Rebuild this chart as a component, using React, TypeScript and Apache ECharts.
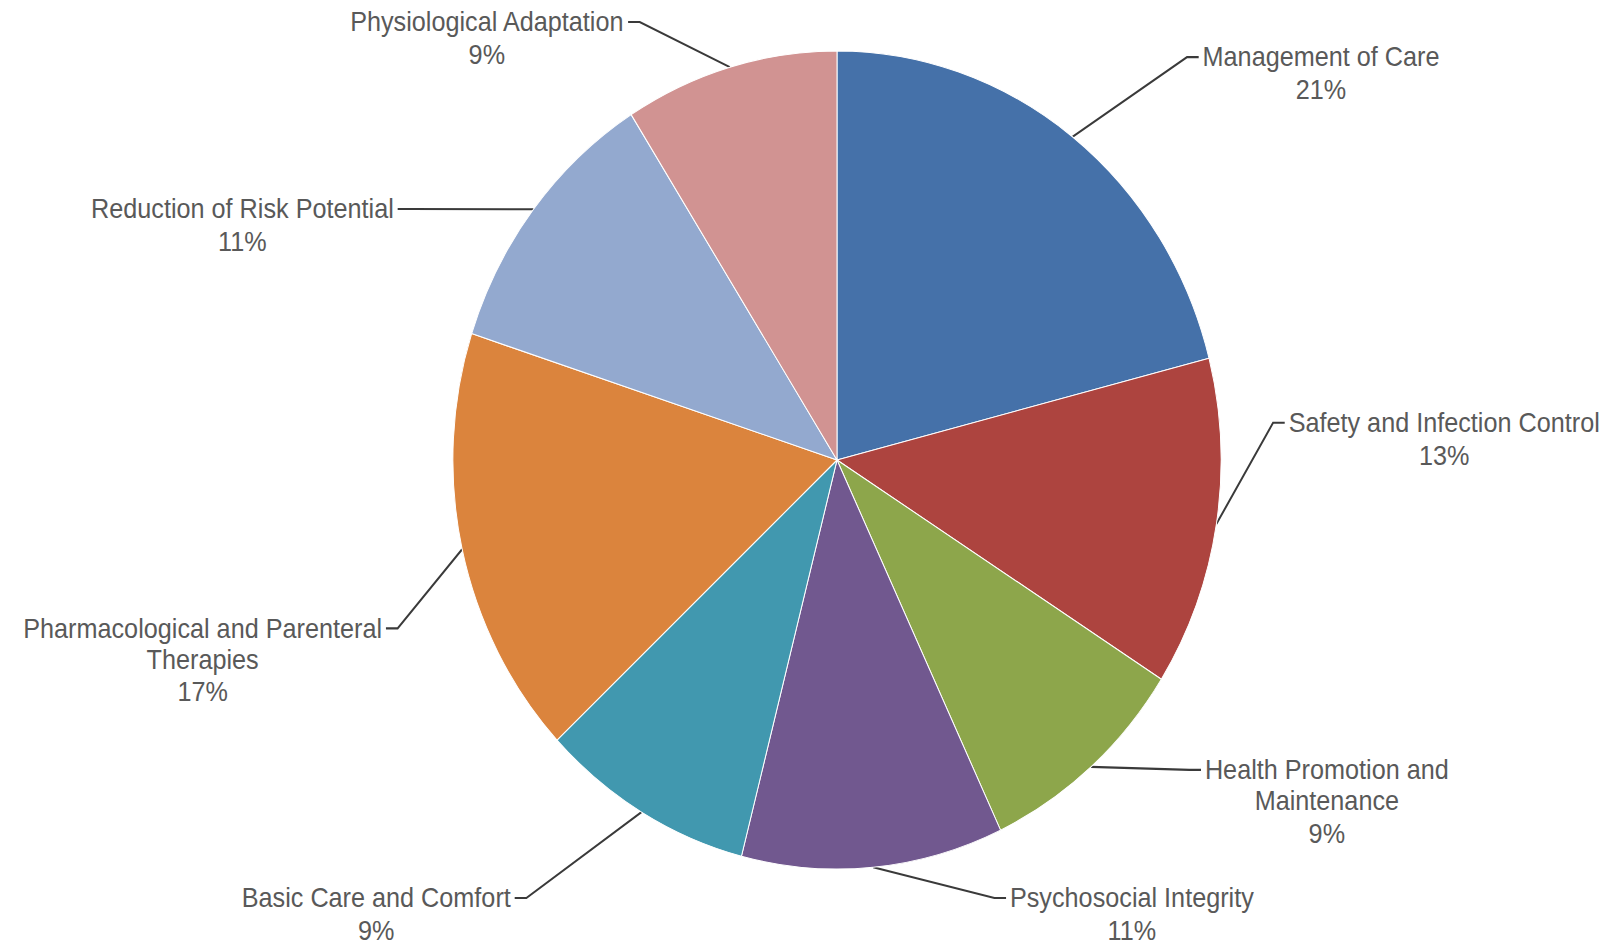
import React, { useEffect, useRef } from "react";
import * as echarts from "echarts";

const categories = [
  "Management of Care",
  "Safety and Infection Control",
  "Health Promotion and\nMaintenance",
  "Psychosocial Integrity",
  "Basic Care and Comfort",
  "Pharmacological and Parenteral\nTherapies",
  "Reduction of Risk Potential",
  "Physiological Adaptation",
];
const values = [21, 13, 9, 11, 9, 17, 11, 9];
const colors = ["#4571A9", "#AD443F", "#8DA64B", "#71588F", "#4198AF", "#DB843D", "#93A9CF", "#D19392"];

// label layout (chart coordinates before the aspect stretch): [center x, first-line middle y]
const labelPos: number[][] = [
  [1336, 70],
  [1463, 424],
  [1342, 760],
  [1141, 884],
  [362, 884],
  [183, 623],
  [224, 217],
  [476, 36],
];
const labelSide = ["left", "left", "left", "left", "right", "right", "right", "right"];

// The reference image is slightly taller than wide; reproduce its aspect.
const SCALE_X = 0.97;
const SCALE_Y = 1.033;
const OFF = 60;
const CENTER = [837, 460];
const RADIUS = 396;
const NAME_LH = 30;
const PCT_LH = 33;
const FONT = 26;
const FAMILY = "Liberation Sans";
const TEXT_COLOR = "#595959";

export default function App() {
  const ref = useRef<HTMLDivElement>(null);
  useEffect(() => {
    if (!ref.current) return;
    const chart = echarts.init(ref.current, null, { renderer: "svg" });
    const total = values.reduce((a, b) => a + b, 0);
    const cx0 = CENTER[0] + OFF;
    const cy0 = CENTER[1] + OFF;
    const data = categories.map((name, i) => ({
      name,
      value: values[i],
      itemStyle: { color: colors[i] },
    }));
    chart.setOption({
      animation: false,
      backgroundColor: "#ffffff",
      series: [
        {
          type: "pie",
          center: [cx0, cy0],
          radius: RADIUS,
          startAngle: 90,
          clockwise: true,
          avoidLabelOverlap: false,
          data,
          itemStyle: { borderColor: "#ffffff", borderWidth: 1 },
          label: {
            show: true,
            position: "outside",
            color: TEXT_COLOR,
            fontFamily: FAMILY,
            fontSize: FONT,
            formatter: (p: any) => `{n|${p.name}}\n{p|${Math.round((p.value / total) * 100)}%}`,
            rich: {
              n: { fontFamily: FAMILY, fontSize: FONT, color: TEXT_COLOR, lineHeight: NAME_LH },
              p: { fontFamily: FAMILY, fontSize: FONT, color: TEXT_COLOR, lineHeight: PCT_LH },
            },
          },
          labelLine: {
            show: true,
            length: 20,
            length2: 10,
            lineStyle: { color: "#3a3a3a", width: 2 },
          },
          labelLayout: (params: any) => {
            const i = params.dataIndex;
            const cx = labelPos[i][0] + OFF;
            const my = labelPos[i][1] + OFF;
            const ty = my - NAME_LH / 2;
            const left = labelSide[i] === "left";
            const w = params.labelRect.width;
            const ax = left ? cx - w / 2 - 4 : cx + w / 2 + 4;
            const ay = my;
            let start: number[];
            if (params.labelLinePoints && params.labelLinePoints[0]) {
              start = params.labelLinePoints[0];
            } else {
              let cum = 0;
              for (let k = 0; k < i; k++) cum += values[k];
              const ang = ((cum + values[i] / 2) / total) * Math.PI * 2;
              start = [cx0 + RADIUS * Math.sin(ang), cy0 - RADIUS * Math.cos(ang)];
            }
            const elbow = [ax + (left ? -12 : 12), ay];
            return {
              x: cx,
              y: ty,
              align: "center",
              verticalAlign: "top",
              labelLinePoints: [start, elbow, [ax, ay]],
            };
          },
        },
      ],
    });
    return () => chart.dispose();
  }, []);
  return (
    <div
      style={{
        position: "fixed",
        left: 0,
        top: 0,
        width: 1616,
        height: 950,
        overflow: "hidden",
        background: "#fff",
      }}
    >
      <div
        ref={ref}
        style={{
          position: "absolute",
          left: -OFF,
          top: -OFF,
          width: 1616 + 2 * OFF,
          height: 950 + 2 * OFF,
          transform: `scale(${SCALE_X}, ${SCALE_Y})`,
          transformOrigin: `${CENTER[0] + OFF}px ${CENTER[1] + OFF}px`,
        }}
      />
    </div>
  );
}
